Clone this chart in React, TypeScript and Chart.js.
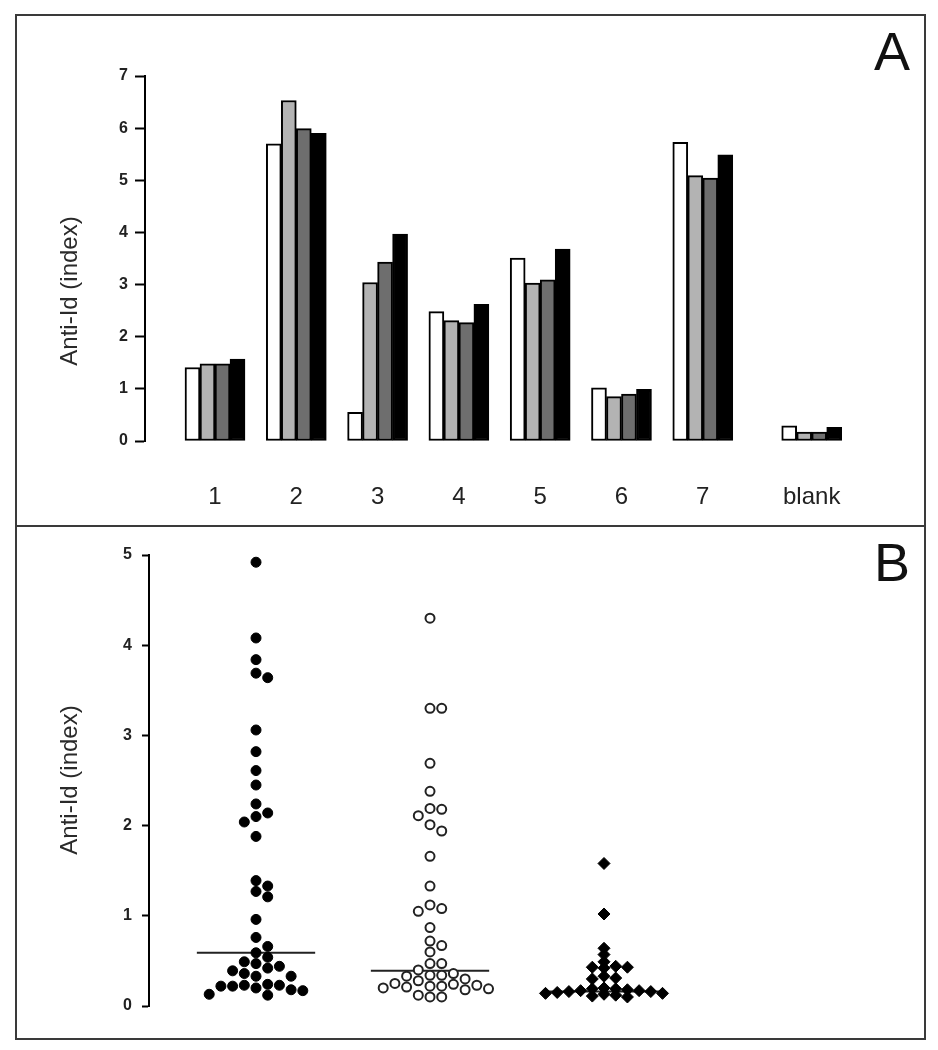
import React, { useEffect, useRef } from "react";
import { Chart, registerables } from "chart.js";

Chart.register(...registerables);

// ---------- Panel A data ----------
const categories = ["1", "2", "3", "4", "5", "6", "7", "blank"];
const seriesWhite = [1.41, 5.7, 0.55, 2.48, 3.51, 1.02, 5.73, 0.29];
const seriesLightGray = [1.48, 6.53, 3.04, 2.31, 3.03, 0.85, 5.09, 0.17];
const seriesDarkGray = [1.48, 5.99, 3.43, 2.27, 3.09, 0.9, 5.04, 0.17];
const seriesBlack = [1.57, 5.9, 3.97, 2.62, 3.68, 0.99, 5.49, 0.26];
const yTicksA = [0, 1, 2, 3, 4, 5, 6, 7];

// ---------- Panel B data ----------
const groupFilled = [
  4.92, 4.08, 3.84, 3.69, 3.64, 3.06, 2.82, 2.61, 2.45, 2.24, 2.14, 2.1, 2.04,
  1.88, 1.39, 1.33, 1.27, 1.21, 0.96, 0.76, 0.66, 0.59, 0.54, 0.49, 0.47, 0.44,
  0.42, 0.39, 0.36, 0.33, 0.33, 0.24, 0.23, 0.23, 0.22, 0.22, 0.2, 0.18, 0.17,
  0.13, 0.12,
];
const groupOpen = [
  4.3, 3.3, 3.3, 2.69, 2.38, 2.19, 2.18, 2.11, 2.01, 1.94, 1.66, 1.33, 1.12,
  1.08, 1.05, 0.87, 0.72, 0.67, 0.6, 0.47, 0.47, 0.4, 0.36, 0.34, 0.34, 0.33,
  0.3, 0.28, 0.25, 0.24, 0.23, 0.22, 0.22, 0.21, 0.2, 0.19, 0.18, 0.12, 0.1,
  0.1,
];
const groupDiamond = [
  1.58, 1.02, 0.64, 0.57, 0.49, 0.44, 0.43, 0.43, 0.42, 0.33, 0.31, 0.3, 0.2,
  0.19, 0.19, 0.18, 0.17, 0.17, 0.16, 0.16, 0.15, 0.14, 0.14, 0.13, 0.12, 0.11,
  0.1,
];
const medians = [0.59, 0.39, 0.16];
const yTicksB = [0, 1, 2, 3, 4, 5];

const FONT = "'Liberation Sans', Arial, Helvetica, sans-serif";

// Layout of panel B (px per unit) so the swarm can be laid out in pixels
const B_PX_X = 174;
const B_PX_Y = 90.2;
const SLOT_PX = 11.7;

function swarm(values: number[], center: number, minDist: number) {
  const placed: { v: number; s: number }[] = [];
  const sorted = [...values].sort((a, b) => b - a);
  for (const v of sorted) {
    for (let n = 0; n < 100; n++) {
      const s = n === 0 ? 0 : n % 2 === 1 ? (n + 1) / 2 : -n / 2;
      const ok = placed.every((p) => {
        const dx = (p.s - s) * SLOT_PX;
        const dy = (p.v - v) * B_PX_Y;
        return dx * dx + dy * dy >= minDist * minDist;
      });
      if (ok) {
        placed.push({ v, s });
        break;
      }
    }
  }
  return placed.map((p) => ({ x: center + (p.s * SLOT_PX) / B_PX_X, y: p.v }));
}

const sideTitle = {
  id: "sideTitle",
  afterDraw(chart: any, _args: any, opts: any) {
    const { ctx } = chart;
    ctx.save();
    ctx.translate(opts.x, opts.y);
    ctx.rotate(-Math.PI / 2);
    ctx.font = opts.font;
    ctx.fillStyle = opts.color;
    ctx.textAlign = "center";
    ctx.textBaseline = "middle";
    ctx.fillText(opts.text, 0, 0);
    ctx.restore();
  },
};

const tickFont = { family: FONT, size: 16, weight: "bold" as const };

function PanelA() {
  const ref = useRef<HTMLCanvasElement>(null);
  useEffect(() => {
    const positions = categories.map((_, i) => (i < 7 ? i + 1 : 8.34));
    const mk = (label: string, vals: number[], color: string) => ({
      label,
      data: vals.map((v, i) => ({ x: positions[i], y: v })),
      backgroundColor: color,
      borderColor: "#000",
      borderWidth: 2,
      borderSkipped: false,
      barThickness: 15,
    });
    const chart = new Chart(ref.current!, {
      type: "bar",
      data: {
        datasets: [
          mk("white", seriesWhite, "#ffffff"),
          mk("light", seriesLightGray, "#b3b3b3"),
          mk("dark", seriesDarkGray, "#6e6e6e"),
          mk("black", seriesBlack, "#000000"),
        ] as any,
      },
      plugins: [sideTitle],
      options: {
        responsive: false,
        animation: false,
        layout: { padding: { top: 61, right: 24, bottom: 0, left: 0 } },
        plugins: {
          legend: { display: false },
          tooltip: { enabled: false },
          sideTitle: { text: "Anti-Id (index)", x: 54, y: 276, font: `24px ${FONT}`, color: "#2a2a2a" },
        } as any,
        scales: {
          x: {
            type: "linear",
            offset: false,
            min: 0.139,
            max: 9.426,
            afterBuildTicks: (s: any) => {
              s.ticks = positions.map((v) => ({ value: v }));
            },
            afterFit: (s: any) => {
              s.height = 84;
            },
            grid: { display: false, drawTicks: false },
            border: { display: false },
            ticks: {
              autoSkip: false,
              maxRotation: 0,
              padding: 42,
              color: "#222",
              font: { family: FONT, size: 24 },
              callback: (_v: any, i: number) => categories[i],
            },
          },
          y: {
            min: 0,
            max: 7,
            afterBuildTicks: (s: any) => {
              s.ticks = yTicksA.map((v) => ({ value: v }));
            },
            afterFit: (s: any) => {
              s.width = 129;
            },
            grid: { display: true, drawOnChartArea: false, drawTicks: true, tickLength: 10, tickColor: "#000", tickWidth: 2 },
            border: { display: true, color: "#000", width: 2 },
            ticks: { padding: 7, color: "#222", font: tickFont },
          },
        },
      } as any,
    });
    return () => chart.destroy();
  }, []);
  return <canvas ref={ref} width={908} height={510} style={{ position: "absolute", left: 16, top: 15, display: "block" }} />;
}

function PanelB() {
  const ref = useRef<HTMLCanvasElement>(null);
  useEffect(() => {
    const medianLine = (m: number, i: number) => ({
      label: "median" + i,
      data: [
        { x: i + 1 - 0.34, y: m },
        { x: i + 1 + 0.34, y: m },
      ],
      showLine: true,
      borderColor: "#222",
      borderWidth: 2,
      pointRadius: 0,
      order: 5,
    });
    const chart = new Chart(ref.current!, {
      type: "scatter",
      data: {
        datasets: [
          ...medians.map(medianLine),
          {
            label: "filled",
            data: swarm(groupFilled, 1, 10),
            pointStyle: "circle",
            pointRadius: 5,
            backgroundColor: "#000",
            borderColor: "#000",
            borderWidth: 1,
            order: 1,
          },
          {
            label: "open",
            data: swarm(groupOpen, 2, 10),
            pointStyle: "circle",
            pointRadius: 4.5,
            backgroundColor: "#fff",
            borderColor: "#222",
            borderWidth: 2,
            order: 1,
          },
          {
            label: "diamond",
            data: swarm(groupDiamond, 3, 6),
            pointStyle: "rectRot",
            pointRadius: 6,
            backgroundColor: "#000",
            borderColor: "#000",
            borderWidth: 1,
            order: 1,
          },
        ] as any,
      },
      plugins: [sideTitle],
      options: {
        responsive: false,
        animation: false,
        layout: { padding: { top: 28, right: 24, bottom: 31, left: 0 } },
        plugins: {
          legend: { display: false },
          tooltip: { enabled: false },
          sideTitle: { text: "Anti-Id (index)", x: 54, y: 253, font: `24px ${FONT}`, color: "#2a2a2a" },
        } as any,
        scales: {
          x: {
            type: "linear",
            display: false,
            min: 0.385,
            max: 0.385 + 751 / B_PX_X,
          },
          y: {
            min: 0,
            max: 5,
            afterBuildTicks: (s: any) => {
              s.ticks = yTicksB.map((v) => ({ value: v }));
            },
            afterFit: (s: any) => {
              s.width = 133;
            },
            grid: { display: true, drawOnChartArea: false, drawTicks: true, tickLength: 7, tickColor: "#000", tickWidth: 2 },
            border: { display: true, color: "#000", width: 2 },
            ticks: { padding: 10, color: "#222", font: tickFont },
          },
        },
      } as any,
    });
    return () => chart.destroy();
  }, []);
  return <canvas ref={ref} width={908} height={510} style={{ position: "absolute", left: 16, top: 527, display: "block" }} />;
}

const letterStyle: React.CSSProperties = {
  position: "absolute",
  left: 892,
  transform: "translate(-50%, -50%)",
  fontFamily: FONT,
  fontSize: 54,
  lineHeight: 1,
  color: "#111",
};

export default function App() {
  return (
    <div style={{ position: "absolute", left: 0, top: 0, width: 938, height: 1050, background: "#fff" }}>
      <div
        style={{
          position: "absolute",
          left: 15,
          top: 14,
          width: 911,
          height: 1026,
          border: "2px solid #3a3a3a",
          boxSizing: "border-box",
        }}
      />
      <div style={{ position: "absolute", left: 15, top: 525, width: 911, height: 2, background: "#3a3a3a" }} />
      <PanelA />
      <PanelB />
      <div style={{ ...letterStyle, top: 51 }}>A</div>
      <div style={{ ...letterStyle, top: 562 }}>B</div>
    </div>
  );
}
